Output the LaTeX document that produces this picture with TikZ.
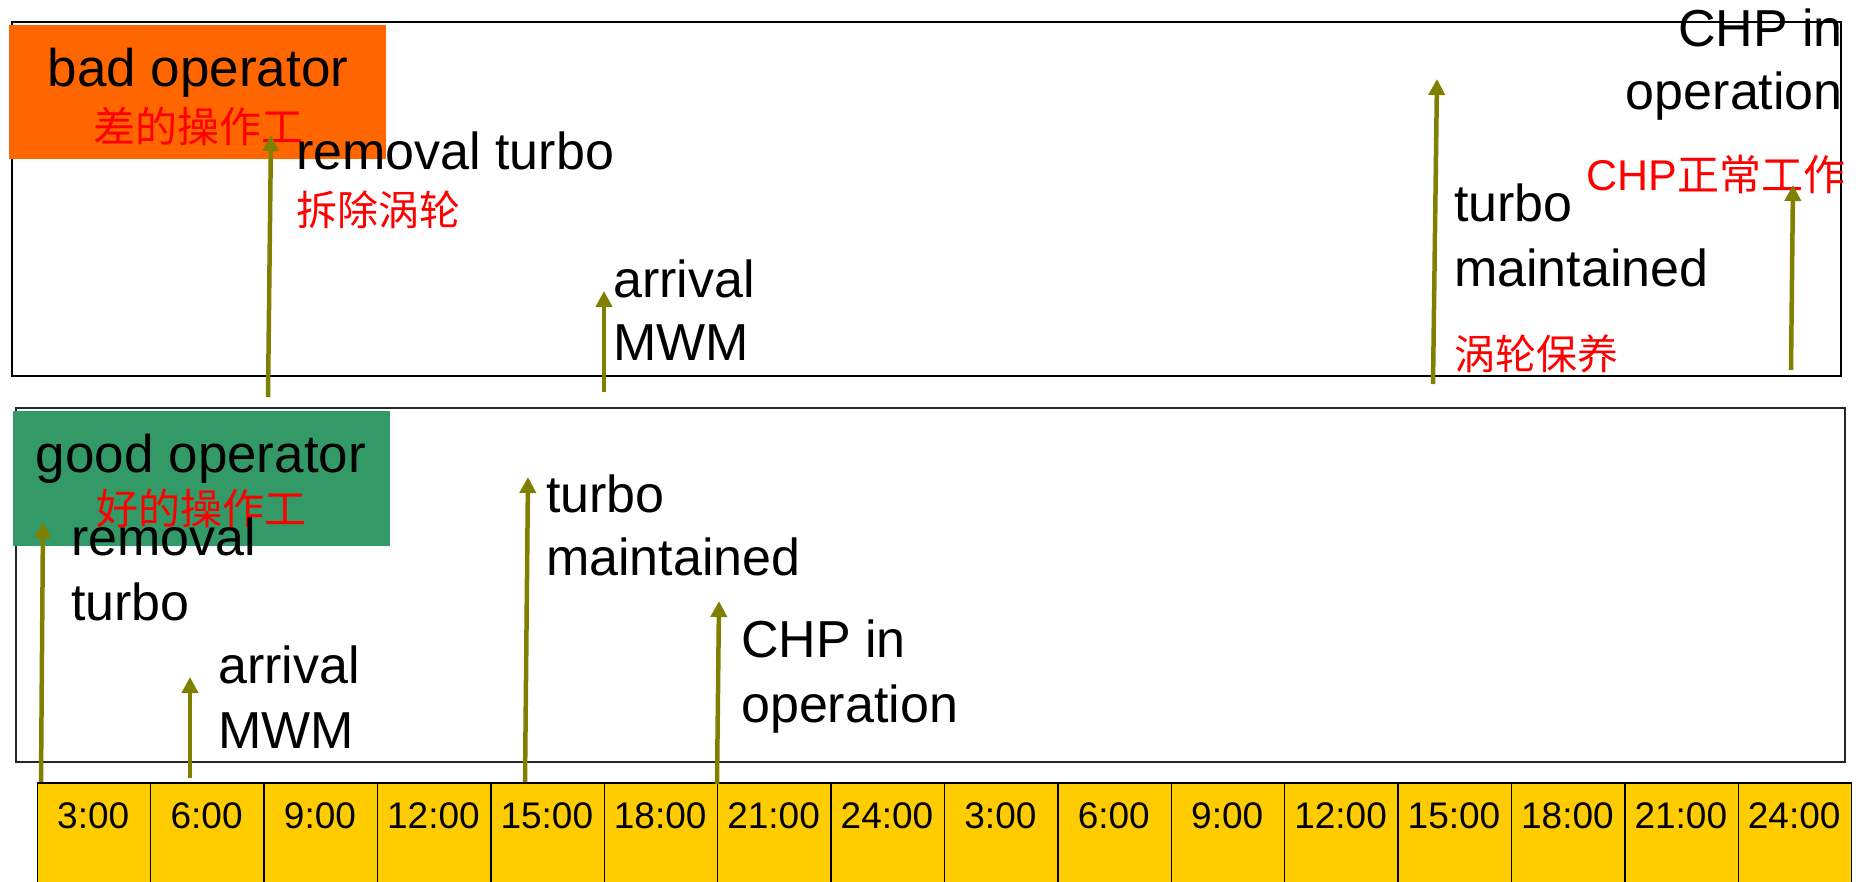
\documentclass[tikz,border=0pt]{standalone}
\usepackage{fontspec}
\setmainfont{Liberation Sans}
\newfontfamily\cjk{Noto Sans CJK SC}
\usetikzlibrary{arrows.meta}
\definecolor{orangebox}{HTML}{FF6600}
\definecolor{greenbox}{HTML}{339966}
\definecolor{ybox}{HTML}{FFCC00}
\definecolor{olivearrow}{HTML}{808000}
\begin{document}
\begin{tikzpicture}[x=1pt,y=-1pt,
  lbl/.style={anchor=base west,inner sep=0pt,font=\fontsize{52}{62}\selectfont},
  lblr/.style={lbl,anchor=base east},
  title/.style={anchor=base,inner sep=0pt,font=\fontsize{53}{62}\selectfont},
  zh/.style={anchor=base west,inner sep=0pt,text=red,font=\fontsize{41}{50}\selectfont\cjk},
  zhc/.style={zh,anchor=base,font=\fontsize{42}{50}\selectfont\cjk},
  evt/.style={draw=olivearrow,line width=4.5pt,-{Triangle[width=16pt,length=16pt]}},
  panel/.style={draw=black,line width=2pt,inner sep=0pt,anchor=north west},
  tag/.style={inner sep=0pt,anchor=north west},
  cell/.style={draw=black,line width=1.5pt,fill=ybox,inner sep=0pt,anchor=north west,minimum width=113.4pt,minimum height=110pt},
  tlab/.style={anchor=base,inner sep=0pt,font=\fontsize{37}{44}\selectfont}
]
\useasboundingbox (0,0) rectangle (1856,882);
% panels
\node[panel,minimum width=1829pt,minimum height=354pt] (badpanel) at (11,21) {};
\node[panel,draw=black!85,minimum width=1829pt,minimum height=354pt] (goodpanel) at (15,407) {};
% operator tags
\node[tag,fill=orangebox,minimum width=377pt,minimum height=134pt] (badtag) at (9,25) {};
\node[tag,fill=greenbox,minimum width=377pt,minimum height=135pt] (goodtag) at (13,411) {};
\node[title] (badtxt) at (198,87) {bad operator};
\node[zhc] (badzh) at (198,143) {差的操作工};
\node[title] (goodtxt) at (201,472) {good operator};
\node[zhc] (goodzh) at (201,524) {好的操作工};
% timeline
\foreach \lab [count=\i] in {3:00,6:00,9:00,12:00,15:00,18:00,21:00,24:00,3:00,6:00,9:00,12:00,15:00,18:00,21:00,24:00}{
  \node[cell] (c\i) at ({36.5+113.4*(\i-1)},782) {};
  \node[tlab] (t\i) at ({36.5+113.4*(\i-0.5)},828) {\lab};
}
% bad operator labels
\node[lbl] (b1a) at (296,170) {removal turbo};
\node[zh] (b1z) at (296,226) {拆除涡轮};
\node[lbl] (b2a) at (613,298) {arrival};
\node[lbl] (b2b) at (613,361) {MWM};
\node[lbl] (b3a) at (1454,222) {turbo};
\node[lbl] (b3b) at (1454,287) {maintained};
\node[zh] (b3z) at (1454,370) {涡轮保养};
\node[lblr] (b4a) at (1843,47) {CHP in};
\node[lblr] (b4b) at (1843,110) {operation};
\node[zh,font=\fontsize{43}{50}\selectfont] (b4z) at (1586,191) {CHP{\cjk\fontsize{42}{50}\selectfont 正常工作}};
% good operator labels
\node[lbl] (g1a) at (71,555) {removal};
\node[lbl] (g1b) at (71,620) {turbo};
\node[lbl] (g2a) at (218,683) {arrival};
\node[lbl] (g2b) at (218,748) {MWM};
\node[lbl] (g3a) at (546,512) {turbo};
\node[lbl] (g3b) at (546,575) {maintained};
\node[lbl] (g4a) at (741,657) {CHP in};
\node[lbl] (g4b) at (741,722) {operation};
% event arrows
\coordinate (ba1) at (268,397); \coordinate (bt1) at (271,135);
\coordinate (ba2) at (604,392); \coordinate (bt2) at (604,291);
\coordinate (ba3) at (1433,384); \coordinate (bt3) at (1437,79);
\coordinate (ba4) at (1791,370); \coordinate (bt4) at (1793,185);
\coordinate (ga1) at (41,782); \coordinate (gt1) at (43,522);
\coordinate (ga2) at (190,778); \coordinate (gt2) at (190,677);
\coordinate (ga3) at (525,782); \coordinate (gt3) at (528,477);
\coordinate (ga4) at (717,784); \coordinate (gt4) at (719,601);
\foreach \k in {1,...,4}{
  \draw[evt] (ba\k) -- (bt\k);
  \draw[evt] (ga\k) -- (gt\k);
}
\end{tikzpicture}
\end{document}
